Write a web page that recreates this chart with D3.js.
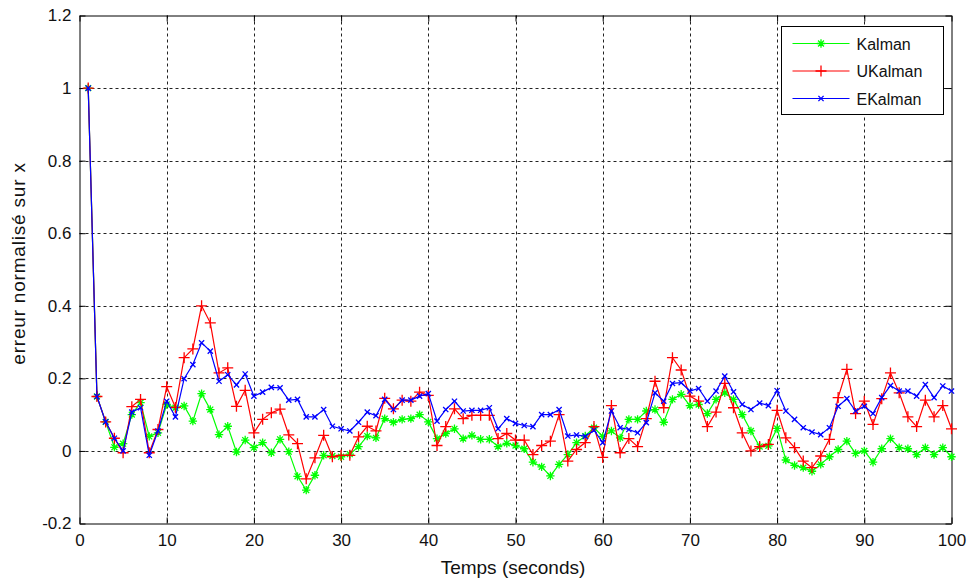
<!DOCTYPE html>
<html>
<head>
<meta charset="utf-8">
<script src="https://cdn.jsdelivr.net/npm/d3@7"></script>
<style>
  html, body { margin: 0; padding: 0; background: #ffffff; }
  svg { display: block; }
  text { font-family: "Liberation Sans", Arial, sans-serif; fill: #111; }
</style>
</head>
<body>
<svg id="chart" width="968" height="580"></svg>
<script>
// Time steps 1..100 (seconds)
const temps = d3.range(1, 101);

// Normalised x-error for each filter
const kalman = [
  1.0, 0.15, 0.08, 0.01, 0.02, 0.10, 0.133, 0.04, 0.05, 0.128,
  0.119, 0.124, 0.082, 0.158, 0.114, 0.045, 0.068, -0.003, 0.03, 0.009,
  0.023, -0.005, 0.032, -0.002, -0.07, -0.108, -0.067, -0.012, -0.014, -0.016,
  -0.009, 0.012, 0.041, 0.036, 0.089, 0.079, 0.087, 0.089, 0.10, 0.08,
  0.034, 0.048, 0.061, 0.034, 0.043, 0.032, 0.032, 0.012, 0.021, 0.015,
  0.006, -0.031, -0.044, -0.069, -0.037, -0.010, 0.023, 0.041, 0.064, 0.04,
  0.055, 0.036, 0.087, 0.087, 0.11, 0.114, 0.079, 0.142, 0.156, 0.125,
  0.128, 0.103, 0.142, 0.16, 0.142, 0.10, 0.055, 0.012, 0.014, 0.062,
  -0.025, -0.04, -0.046, -0.056, -0.037, -0.016, 0.004, 0.027, -0.007, 0.0,
  -0.031, 0.006, 0.034, 0.009, 0.006, -0.01, 0.009, -0.01, 0.009, -0.016
];
const ukalman = [
  1.0, 0.15, 0.08, 0.035, -0.005, 0.122, 0.142, -0.005, 0.059, 0.177,
  0.12, 0.257, 0.281, 0.40, 0.353, 0.215, 0.229, 0.123, 0.167, 0.05,
  0.087, 0.105, 0.115, 0.044, 0.02, -0.077, -0.019, 0.043, -0.016, -0.012,
  -0.012, 0.039, 0.068, 0.055, 0.145, 0.116, 0.14, 0.137, 0.162, 0.153,
  0.015, 0.067, 0.116, 0.089, 0.098, 0.098, 0.098, 0.034, 0.048, 0.030,
  0.030, -0.010, 0.015, 0.027, 0.1, -0.028, 0.004, 0.023, 0.067, -0.018,
  0.125, -0.005, 0.034, 0.012, 0.089, 0.192, 0.119, 0.257, 0.223, 0.151,
  0.137, 0.067, 0.107, 0.186, 0.119, 0.05, 0.0, 0.012, 0.018, 0.112,
  0.036, 0.009, -0.028, -0.046, -0.014, 0.032, 0.147, 0.225, 0.103, 0.137,
  0.073, 0.144, 0.215, 0.16, 0.094, 0.067, 0.14, 0.094, 0.125, 0.061
];
const ekalman = [
  1.0, 0.15, 0.08, 0.035, 0.0, 0.107, 0.119, -0.012, 0.055, 0.137,
  0.094, 0.199, 0.238, 0.298, 0.275, 0.192, 0.21, 0.182, 0.212, 0.151,
  0.162, 0.175, 0.174, 0.14, 0.142, 0.094, 0.094, 0.114, 0.068, 0.061,
  0.055, 0.079, 0.107, 0.097, 0.142, 0.114, 0.14, 0.14, 0.151, 0.158,
  0.082, 0.114, 0.137, 0.110, 0.112, 0.112, 0.119, 0.061, 0.089, 0.076,
  0.070, 0.067, 0.1, 0.1, 0.114, 0.041, 0.044, 0.04, 0.057, 0.023,
  0.110, 0.064, 0.059, 0.05, 0.078, 0.160, 0.137, 0.186, 0.188, 0.165,
  0.172, 0.137, 0.165, 0.206, 0.163, 0.128, 0.114, 0.132, 0.125, 0.166,
  0.110, 0.087, 0.064, 0.052, 0.045, 0.064, 0.123, 0.144, 0.110, 0.123,
  0.103, 0.147, 0.180, 0.165, 0.165, 0.151, 0.183, 0.147, 0.179, 0.165
];

const seriesNames = ["Kalman", "UKalman", "EKalman"];
const xTicks = d3.range(0, 101, 10);
const yTicks = [-0.2, 0, 0.2, 0.4, 0.6, 0.8, 1, 1.2];

const svg = d3.select("#chart");
const plotLeft = 79.5, plotRight = 951.5, plotTop = 15.5, plotBottom = 523.5;

const x = d3.scaleLinear().domain([0, 100]).range([plotLeft, plotRight]);
const y = d3.scaleLinear().domain([-0.2, 1.2]).range([plotBottom, plotTop]);

// Marker shapes ('*', '+', 'x')
const markerPath = {
  star: r => `M${-r},0H${r}M0,${-r}V${r}M${-r*0.7},${-r*0.7}L${r*0.7},${r*0.7}M${-r*0.7},${r*0.7}L${r*0.7},${-r*0.7}`,
  plus: r => `M${-r},0H${r}M0,${-r}V${r}`,
  cross: r => `M${-r},${-r}L${r},${r}M${-r},${r}L${r},${-r}`
};

const series = [
  { name: seriesNames[0], values: kalman, color: "#00ff00", marker: "star", size: 4.2 },
  { name: seriesNames[1], values: ukalman, color: "#ff0000", marker: "plus", size: 5.5 },
  { name: seriesNames[2], values: ekalman, color: "#0000ff", marker: "cross", size: 2.6 }
];

// Grid
const grid = svg.append("g").attr("stroke", "#222").attr("stroke-width", 1)
  .attr("stroke-dasharray", "3,3");
xTicks.slice(1, -1).forEach(t => {
  grid.append("line").attr("x1", Math.round(x(t)) + 0.5).attr("x2", Math.round(x(t)) + 0.5)
    .attr("y1", plotTop).attr("y2", plotBottom);
});
yTicks.slice(1, -1).forEach(t => {
  grid.append("line").attr("y1", Math.round(y(t)) + 0.5).attr("y2", Math.round(y(t)) + 0.5)
    .attr("x1", plotLeft).attr("x2", plotRight);
});

// Axes (inward ticks on all four sides)
const tickLen = 6;
const axB = d3.axisBottom(x).tickValues(xTicks).tickSizeInner(-tickLen).tickSizeOuter(0).tickPadding(10);
const axT = d3.axisTop(x).tickValues(xTicks).tickSizeInner(-tickLen).tickSizeOuter(0).tickFormat("");
const axL = d3.axisLeft(y).tickValues(yTicks).tickSizeInner(-tickLen).tickSizeOuter(0).tickPadding(8)
  .tickFormat(d => String(+d.toFixed(1)));
const axR = d3.axisRight(y).tickValues(yTicks).tickSizeInner(-tickLen).tickSizeOuter(0).tickFormat("");

function styleAxis(g) {
  g.selectAll("path").attr("stroke", "#000").attr("stroke-width", 1);
  g.selectAll("line").attr("stroke", "#000");
  g.selectAll("text").attr("font-size", 17).attr("font-family", "'Liberation Sans', Arial, sans-serif")
    .attr("fill", "#111");
}
svg.append("g").attr("transform", `translate(0,${plotBottom})`).call(axB).call(styleAxis);
svg.append("g").attr("transform", `translate(0,${plotTop})`).call(axT).call(styleAxis);
svg.append("g").attr("transform", `translate(${plotLeft},0)`).call(axL).call(styleAxis);
svg.append("g").attr("transform", `translate(${plotRight},0)`).call(axR).call(styleAxis);

// Series lines and markers
const line = d3.line().x((d, i) => x(temps[i])).y(d => y(d));
series.forEach(s => {
  svg.append("path").datum(s.values)
    .attr("fill", "none").attr("stroke", s.color).attr("stroke-width", 1.2)
    .attr("d", line);
  svg.append("g").selectAll("path").data(s.values).join("path")
    .attr("transform", (d, i) => `translate(${x(temps[i])},${y(d)})`)
    .attr("d", markerPath[s.marker](s.size))
    .attr("stroke", s.color).attr("stroke-width", 1.3).attr("fill", "none");
});

// Axis titles
svg.append("text").attr("x", 513).attr("y", 574)
  .attr("text-anchor", "middle").attr("font-size", 19).text("Temps (seconds)");
svg.append("text").attr("transform", `translate(25,${(plotTop + plotBottom) / 2 - 6}) rotate(-90)`)
  .attr("text-anchor", "middle").attr("font-size", 19).attr("letter-spacing", 0.8)
  .text("erreur normalisé  sur x");

// Legend
const lg = svg.append("g").attr("transform", "translate(781.5,26.5)");
lg.append("rect").attr("width", 162).attr("height", 88)
  .attr("fill", "#fff").attr("stroke", "#000").attr("stroke-width", 1);
series.forEach((s, i) => {
  const ry = 17 + i * 27.5;
  lg.append("line").attr("x1", 11).attr("x2", 68).attr("y1", ry).attr("y2", ry)
    .attr("stroke", s.color).attr("stroke-width", 1.2);
  lg.append("path").attr("transform", `translate(39.5,${ry})`)
    .attr("d", markerPath[s.marker](s.size))
    .attr("stroke", s.color).attr("stroke-width", 1.3).attr("fill", "none");
  lg.append("text").attr("x", 75).attr("y", ry + 6).attr("font-size", 16).text(s.name);
});
</script>
</body>
</html>
